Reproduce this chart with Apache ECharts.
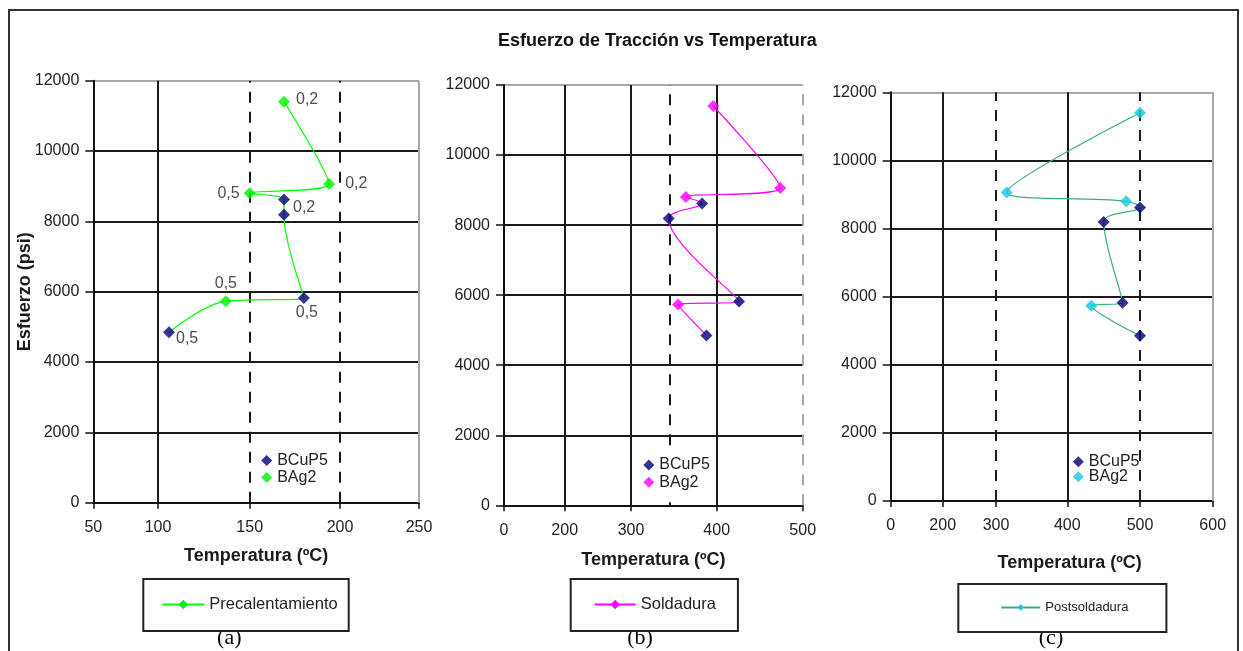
<!DOCTYPE html>
<html>
<head>
<meta charset="utf-8">
<script src="https://cdn.jsdelivr.net/npm/echarts@6/dist/echarts.min.js"></script>
<style>
  html, body { margin: 0; padding: 0; background: #fff; }
  #chart { width: 1243px; height: 651px; }
</style>
</head>
<body>
<div id="chart"></div>
<script>
// Tensile stress (psi) of each joint, ordered from weakest to strongest
const stress = [4850, 5730, 5820, 8190, 8620, 8800, 9060, 11400];
const alloy = ['BCuP5', 'BAg2', 'BCuP5', 'BCuP5', 'BCuP5', 'BAg2', 'BAg2', 'BAg2'];

// Temperature (ºC) of each joint in the three stages
const tempPre = [106, 137, 180, 169, 169, 150, 194, 169];
const tempSol = [388, 355, 426, 344, 383, 364, 474, 396];
const tempPost = [500, 433, 476, 450, 500, 481, 315, 500];

// Ratios written next to the preheating points
const ratioPre = ['0,5', '0,5', '0,5', '', '0,2', '0,5', '0,2', '0,2'];

// Temperature tick labels of each panel
const ticksPre = [50, 100, 150, 200, 250];
const ticksSol = [0, 200, 300, 400, 500];
const ticksPost = [0, 200, 300, 400, 500, 600];

// Temperatures marked with dashed guide lines
const guidesPre = [150, 200];
const guidesSol = [345, 500];
const guidesPost = [300, 500];

// Stress axis ticks
const stressMin = 0, stressMax = 12000, stressStep = 2000;

// ---- layout -------------------------------------------------------------
// The temperature scales are uneven: where each tick sits along its axis (percent)
const tickPlace = {
  pre: [0, 19.87, 48.02, 75.74, 100],
  sol: [0, 20.32, 42.52, 71.21, 100],
  post: [0, 16.15, 32.70, 54.84, 77.42, 100]
};

// Placement of the ratio labels
const ratioLabelPlace = [
  { position: 'right', offset: [-4, 6] },
  { position: 'top', offset: [0, 1] },
  { position: 'bottom', offset: [3, -4] },
  null,
  { position: 'right', offset: [-2, 8] },
  { position: 'left', offset: [1, 0] },
  { position: 'right', offset: [5, 0] },
  { position: 'right', offset: [1, -2] }
];

const FONT = '"Liberation Sans", Arial, sans-serif';
const INK = '#1a1a1a';
const NAVY = '#000078';

// Piecewise-linear position of a temperature on an uneven axis
function place(t, ticks, pos) {
  for (let i = 0; i < ticks.length - 1; i++) {
    if (t <= ticks[i + 1] || i === ticks.length - 2) {
      const f = (t - ticks[i]) / (ticks[i + 1] - ticks[i]);
      return pos[i] + f * (pos[i + 1] - pos[i]);
    }
  }
  return pos[0];
}

const panels = [
  {
    temps: tempPre, ticks: ticksPre, pos: tickPlace.pre, guides: guidesPre,
    name: 'Precalentamiento', lineColor: '#00ff00', markColor: '#00f000',
    grid: { left: 93.3, top: 80.7, width: 325.7, height: 422 },
    xNameGap: 44, xNamePad: [0, 0, 0, 0], labels: ratioPre,
    legendBox: { left: 143.3, top: 579, padding: [17, 11, 18, 18], itemWidth: 42, itemHeight: 12, fontSize: 16.5 },
    keyPos: { left: 261.2, top: 452.5, gap: 1, padding: 0 },
    caption: { text: '(a)', x: 229.3 }
  },
  {
    temps: tempSol, ticks: ticksSol, pos: tickPlace.sol, guides: guidesSol,
    name: 'Soldadura', lineColor: '#ff00ff', markColor: '#ff00ff',
    grid: { left: 504, top: 85, width: 298.7, height: 420.3 },
    xNameGap: 46, xNamePad: [0, 0, 0, 0], labels: null,
    legendBox: { left: 570.7, top: 579, padding: [17, 22, 18, 23], itemWidth: 41, itemHeight: 12, fontSize: 16.5 },
    keyPos: { left: 637.3, top: 451, gap: 1.3, padding: [6, 6, 12, 6] },
    caption: { text: '(b)', x: 640 }
  },
  {
    temps: tempPost, ticks: ticksPost, pos: tickPlace.post, guides: guidesPost,
    name: 'Postsoldadura', lineColor: '#3aae7e', markColor: '#14c8e0',
    grid: { left: 890.7, top: 92.3, width: 322, height: 408.7 },
    xNameGap: 53, xNamePad: [0, 0, 0, 36], labels: null,
    legendBox: { left: 958.3, top: 584, padding: [17, 38, 18, 42], itemWidth: 39, itemHeight: 8, fontSize: 13 },
    keyPos: { left: 1072.8, top: 453.7, gap: -1, padding: 0 },
    caption: { text: '(c)', x: 1051 }
  }
];

const grids = [], xAxes = [], yAxes = [], series = [], legends = [], graphics = [];

panels.forEach((p, k) => {
  grids.push(Object.assign({ outerBoundsMode: 'none', containLabel: false }, p.grid));

  xAxes.push({
    type: 'value', gridIndex: k, min: 0, max: 100,
    name: 'Temperatura (ºC)', nameLocation: 'middle', nameGap: p.xNameGap,
    nameTextStyle: { fontFamily: FONT, fontSize: 18, fontWeight: 'bold', color: INK, padding: p.xNamePad },
    axisLine: { onZero: false, lineStyle: { color: '#111', width: 2 } },
    axisTick: { customValues: p.pos, length: 6, lineStyle: { color: '#111', width: 1.5 } },
    axisLabel: {
      customValues: p.pos, margin: 17, fontFamily: FONT, fontSize: 16, color: '#222',
      formatter: v => {
        const i = p.pos.findIndex(q => Math.abs(q - v) < 1e-6);
        return i >= 0 ? String(p.ticks[i]) : '';
      }
    },
    splitLine: { show: false }
  });

  yAxes.push({
    type: 'value', gridIndex: k, min: stressMin, max: stressMax, interval: stressStep,
    name: k === 0 ? 'Esfuerzo (psi)' : '', nameLocation: 'middle', nameGap: 59, nameRotate: 90,
    nameMoveOverlap: false,
    nameTextStyle: { fontFamily: FONT, fontSize: 18, fontWeight: 'bold', color: INK },
    axisLine: { show: true, lineStyle: { color: '#111', width: 2 } },
    axisTick: { show: true, length: 8, lineStyle: { color: '#111', width: 1.5 } },
    axisLabel: { margin: 14, fontFamily: FONT, fontSize: 16, color: '#222', formatter: v => String(v) },
    splitLine: {
      show: true,
      lineStyle: { color: ['#1a1a1a', '#1a1a1a', '#1a1a1a', '#1a1a1a', '#1a1a1a', '#1a1a1a', '#a8a8a8'], width: 2 }
    }
  });

  // vertical grid lines and dashed guides
  const last = p.ticks[p.ticks.length - 1];
  const verticals = Array.from(new Set(p.ticks.slice(1).concat(p.guides))).sort((a, b) => a - b);
  const markData = verticals.map(v => {
    const edge = v === last;
    const dashed = p.guides.includes(v);
    return {
      xAxis: place(v, p.ticks, p.pos),
      lineStyle: {
        color: edge ? '#a8a8a8' : '#1a1a1a',
        width: 2,
        type: dashed ? [11, 9] : 'solid'
      }
    };
  });
  series.push({
    type: 'line', xAxisIndex: k, yAxisIndex: k, data: [], silent: true, z: 1,
    markLine: { z: 1, silent: true, symbol: ['none', 'none'], label: { show: false }, animation: false, data: markData }
  });

  // connecting curve through the joints
  series.push({
    name: p.name, type: 'line', xAxisIndex: k, yAxisIndex: k, z: 3,
    smooth: 0.35, symbol: 'diamond', showSymbol: false,
    lineStyle: { color: p.lineColor, width: 1.2 },
    itemStyle: { color: p.markColor },
    data: p.temps.map((t, i) => [place(t, p.ticks, p.pos), stress[i]])
  });

  // markers for each filler alloy
  [['BCuP5', NAVY], ['BAg2', p.markColor]].forEach(([al, col]) => {
    const data = [];
    p.temps.forEach((t, i) => {
      if (alloy[i] !== al) return;
      const item = { value: [place(t, p.ticks, p.pos), stress[i]] };
      if (p.labels && p.labels[i] && ratioLabelPlace[i]) {
        item.label = Object.assign({
          show: true, formatter: p.labels[i],
          fontFamily: FONT, fontSize: 16, color: '#222'
        }, ratioLabelPlace[i]);
      }
      data.push(item);
    });
    series.push({
      name: al, type: 'scatter', xAxisIndex: k, yAxisIndex: k, z: 4,
      symbol: 'diamond', symbolSize: 12,
      itemStyle: { color: col },
      data
    });
  });

  // boxed legend under the panel
  legends.push({
    data: [p.name], orient: 'horizontal',
    left: p.legendBox.left, top: p.legendBox.top, padding: p.legendBox.padding,
    itemWidth: p.legendBox.itemWidth, itemHeight: p.legendBox.itemHeight,
    borderColor: '#222', borderWidth: 2, backgroundColor: '#fff',
    textStyle: { fontFamily: FONT, fontSize: p.legendBox.fontSize, color: '#222' },
    selectedMode: false
  });

  // alloy key inside the plot
  legends.push({
    data: [
      { name: 'BCuP5', icon: 'diamond', itemStyle: { color: NAVY } },
      { name: 'BAg2', icon: 'diamond', itemStyle: { color: p.markColor } }
    ],
    orient: 'vertical', left: p.keyPos.left, top: p.keyPos.top, padding: p.keyPos.padding,
    backgroundColor: p.keyPos.padding ? '#fff' : 'transparent', z: 6,
    itemGap: p.keyPos.gap, itemWidth: 11, itemHeight: 11,
    textStyle: { fontFamily: FONT, fontSize: 16, color: '#222' },
    selectedMode: false
  });

  graphics.push({
    type: 'text', x: p.caption.x, y: 638, silent: true,
    style: { text: p.caption.text, fill: '#000', font: '22px "Liberation Serif", "Times New Roman", serif', align: 'center', verticalAlign: 'middle' }
  });
});

// frame around the figure
graphics.push({
  type: 'polyline', silent: true,
  shape: { points: [[9, 651], [9, 10], [1238, 10], [1238, 651]] },
  style: { stroke: '#333', lineWidth: 2, fill: null }
});

const chart = echarts.init(document.getElementById('chart'), null, { renderer: 'canvas' });
chart.setOption({
  backgroundColor: '#fff',
  animation: false,
  title: {
    text: 'Esfuerzo de Tracción vs Temperatura',
    left: 498, top: 32, padding: 0,
    textStyle: { fontFamily: FONT, fontSize: 18, fontWeight: 'bold', color: '#111' }
  },
  grid: grids,
  xAxis: xAxes,
  yAxis: yAxes,
  legend: legends,
  series: series,
  graphic: graphics
});
</script>
</body>
</html>
